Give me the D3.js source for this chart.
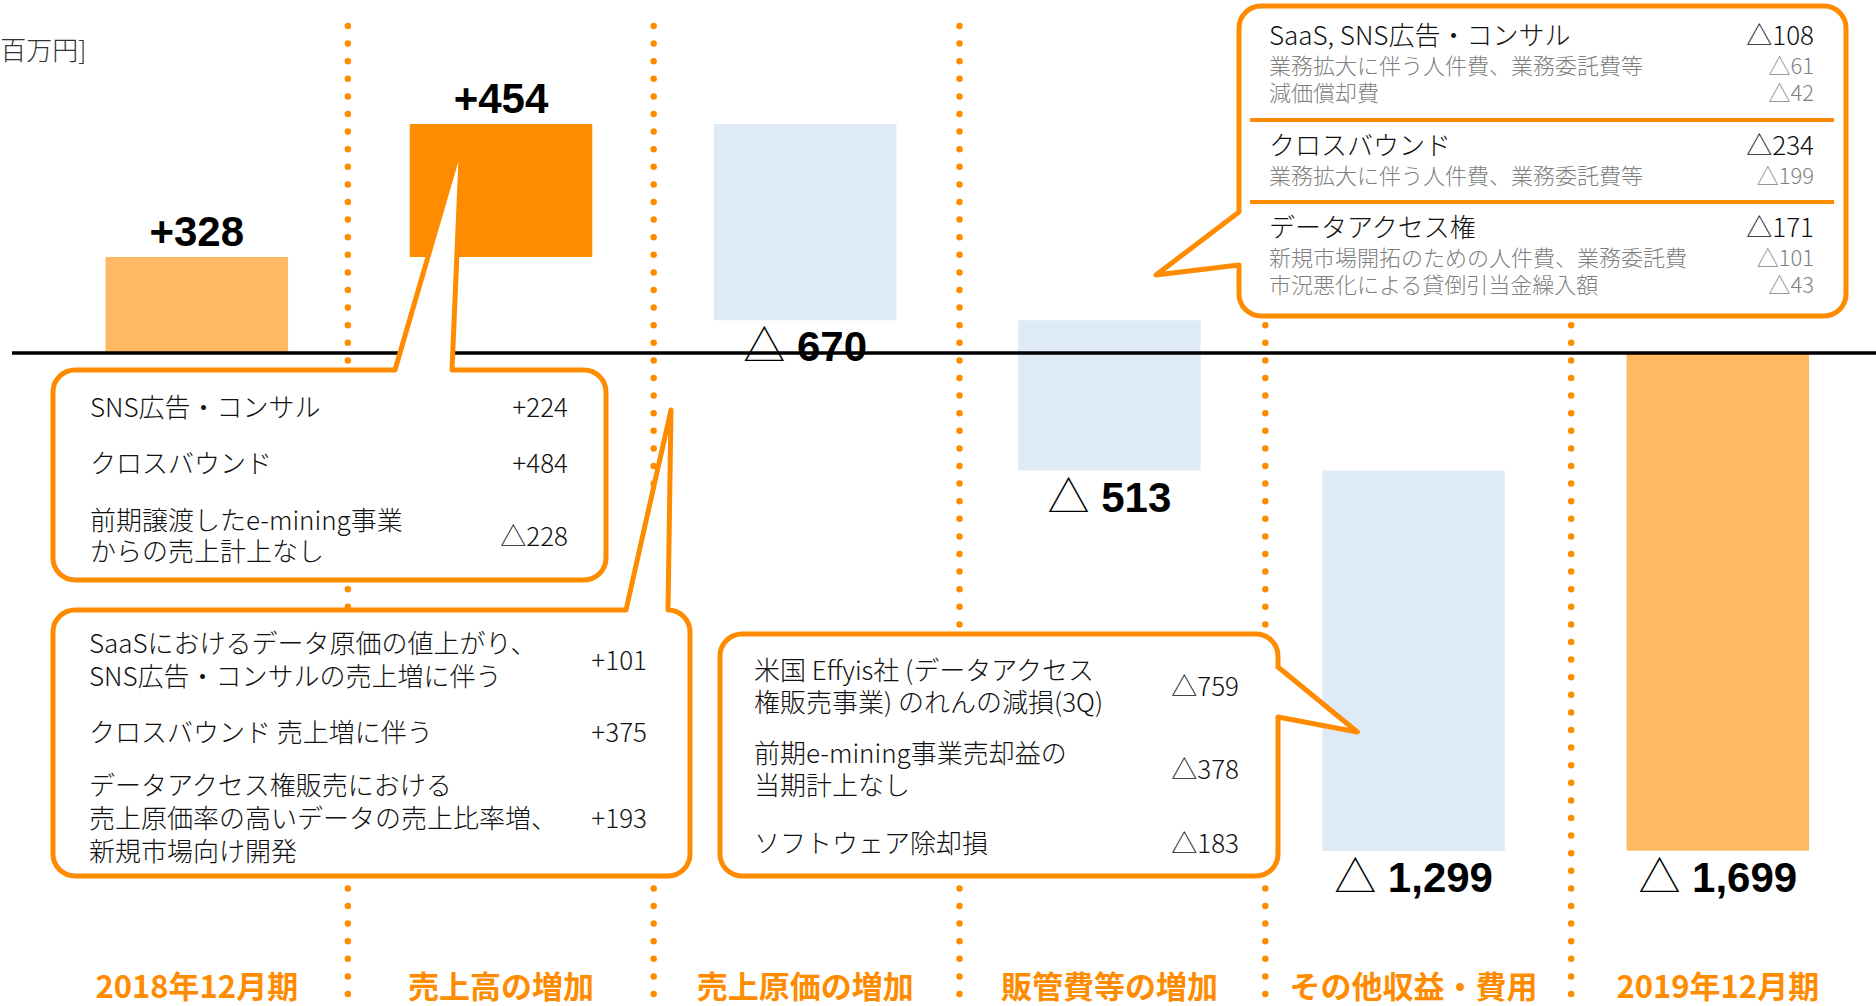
<!DOCTYPE html>
<html>
<head>
<meta charset="utf-8">
<script src="https://cdn.jsdelivr.net/npm/d3@7"></script>
<style>
  body { margin: 0; background: #fff; overflow: hidden; }
  svg { display: block; }
</style>
</head>
<body>
<script>
// --- data -------------------------------------------------------------
const categories = ['2018年12月期', '売上高の増加', '売上原価の増加', '販管費等の増加', 'その他収益・費用', '2019年12月期'];
const changes = [328, 454, -670, -513, -1299, -1699];
const kinds = ['total', 'up', 'down', 'down', 'down', 'total'];
const valueLabels = ['+328', '+454', '670', '513', '1,299', '1,699'];

const salesNotes = [
  { lines: ['SNS広告・コンサル'], value: '+224' },
  { lines: ['クロスバウンド'], value: '+484' },
  { lines: ['前期譲渡したe-mining事業', 'からの売上計上なし'], value: '△228' }
];
const costNotes = [
  { lines: ['SaaSにおけるデータ原価の値上がり、', 'SNS広告・コンサルの売上増に伴う'], value: '+101' },
  { lines: ['クロスバウンド 売上増に伴う'], value: '+375' },
  { lines: ['データアクセス権販売における', '売上原価率の高いデータの売上比率増、', '新規市場向け開発'], value: '+193' }
];
const otherNotes = [
  { lines: ['米国 Effyis社 (データアクセス', '権販売事業) のれんの減損(3Q)'], value: '△759' },
  { lines: ['前期e-mining事業売却益の', '当期計上なし'], value: '△378' },
  { lines: ['ソフトウェア除却損'], value: '△183' }
];
const sgaNotes = [
  { head: 'SaaS, SNS広告・コンサル', value: '△108', subs: [['業務拡大に伴う人件費、業務委託費等', '△61'], ['減価償却費', '△42']] },
  { head: 'クロスバウンド', value: '△234', subs: [['業務拡大に伴う人件費、業務委託費等', '△199']] },
  { head: 'データアクセス権', value: '△171', subs: [['新規市場開拓のための人件費、業務委託費', '△101'], ['市況悪化による貸倒引当金繰入額', '△43']] }
];

// --- setup ------------------------------------------------------------
const width = 1876;
const height = 1006;
const orange = '#ff8c00';
const jp = '"Noto Sans CJK JP", "Noto Sans", sans-serif';
const num = '"Liberation Sans", Arial, sans-serif';

const svg = d3.select('body').append('svg')
  .attr('width', width)
  .attr('height', height);

// waterfall steps
let running = 0;
const steps = changes.map((v, i) => {
  let start, end;
  if (kinds[i] === 'total') { start = 0; end = v; running = v; }
  else { start = running; end = running + v; running = end; }
  return { cat: categories[i], kind: kinds[i], v, start, end, label: valueLabels[i] };
});

const x = d3.scaleBand()
  .domain(categories)
  .range([44.7, 1869.9])
  .paddingInner(0.4)
  .paddingOuter(0.2);

// separator columns are a touch wider than the bar slots
const xSep = d3.scaleBand()
  .domain(categories)
  .range([42, 1877]);

const y = d3.scaleLinear()
  .domain([-1700, 782])
  .range([851, 124]);

const fill = { total: '#ffb964', up: '#ff8c00', down: '#deebf7' };

// bars
svg.append('g').selectAll('rect')
  .data(steps)
  .enter()
    .append('rect')
    .attr('x', d => x(d.cat))
    .attr('width', x.bandwidth())
    .attr('y', d => y(Math.max(d.start, d.end)))
    .attr('height', d => Math.abs(y(d.start) - y(d.end)))
    .attr('fill', d => fill[d.kind]);

// dotted separators
svg.append('g').selectAll('line')
  .data(categories.slice(1))
  .enter()
    .append('line')
    .attr('x1', d => xSep(d))
    .attr('x2', d => xSep(d))
    .attr('y1', 26)
    .attr('y2', height + 10)
    .attr('stroke', orange)
    .attr('stroke-width', 6.5)
    .attr('stroke-linecap', 'round')
    .attr('stroke-dasharray', '0 17.6');

// zero line
svg.append('line')
  .attr('x1', 12).attr('x2', width)
  .attr('y1', y(0)).attr('y2', y(0))
  .attr('stroke', '#000')
  .attr('stroke-width', 3.5);

// value labels
const labels = svg.append('g').selectAll('text')
  .data(steps)
  .enter()
    .append('text')
    .attr('x', d => x(d.cat) + x.bandwidth() / 2)
    .attr('y', d => d.v > 0 ? y(Math.max(d.start, d.end)) - 11 : y(Math.min(d.start, d.end)) + 41)
    .attr('text-anchor', 'middle')
    .attr('font-size', 42);

labels.filter(d => d.v < 0).append('tspan')
  .attr('font-family', jp)
  .attr('font-weight', 300)
  .text('△');
labels.append('tspan')
  .attr('font-family', num)
  .attr('font-weight', 'bold')
  .text(d => d.v < 0 ? '\u00a0' + d.label : d.label);

// unit
svg.append('text')
  .attr('x', -8).attr('y', 60)
  .attr('font-family', jp)
  .attr('font-weight', 300)
  .attr('font-size', 26)
  .attr('fill', '#333')
  .text('[百万円]');

// category labels
svg.append('g').selectAll('text')
  .data(categories)
  .enter()
    .append('text')
    .attr('x', d => x(d) + x.bandwidth() / 2)
    .attr('y', 998)
    .attr('text-anchor', 'middle')
    .attr('font-family', jp)
    .attr('font-weight', 'bold')
    .attr('font-size', 31)
    .attr('fill', orange)
    .text(d => d);

// --- callouts ---------------------------------------------------------
function calloutPath(b, p) {
  const r = 22;
  let d = `M${b.x0 + r},${b.y0}`;
  if (p.side === 'top') d += `L${p.a},${b.y0}L${p.tip[0]},${p.tip[1]}L${p.b},${b.y0}`;
  d += `L${b.x1 - r},${b.y0}A${r},${r} 0 0 1 ${b.x1},${b.y0 + r}`;
  if (p.side === 'right') d += `L${b.x1},${p.a}L${p.tip[0]},${p.tip[1]}L${b.x1},${p.b}`;
  d += `L${b.x1},${b.y1 - r}A${r},${r} 0 0 1 ${b.x1 - r},${b.y1}`;
  d += `L${b.x0 + r},${b.y1}A${r},${r} 0 0 1 ${b.x0},${b.y1 - r}`;
  if (p.side === 'left') d += `L${b.x0},${p.b}L${p.tip[0]},${p.tip[1]}L${b.x0},${p.a}`;
  d += `L${b.x0},${b.y0 + r}A${r},${r} 0 0 1 ${b.x0 + r},${b.y0}Z`;
  return d;
}

function drawCallout(box, pointer) {
  const g = svg.append('g');
  g.append('path')
    .attr('d', calloutPath(box, pointer))
    .attr('fill', '#fff')
    .attr('stroke', orange)
    .attr('stroke-width', 5)
    .attr('stroke-linejoin', 'round');
  return g;
}

function drawRows(g, rows, left, right, rowY, lineH) {
  rows.forEach((row, i) => {
    const y0 = rowY[i];
    row.lines.forEach((line, j) => {
      g.append('text')
        .attr('x', left)
        .attr('y', y0 + j * lineH)
        .attr('font-family', jp)
        .attr('font-weight', 300)
        .attr('font-size', 26)
        .attr('fill', '#111')
        .text(line);
    });
    g.append('text')
      .attr('x', right)
      .attr('y', y0 + (row.lines.length - 1) * lineH / 2)
      .attr('text-anchor', 'end')
      .attr('font-family', jp)
      .attr('font-weight', 300)
      .attr('font-size', 26)
      .attr('fill', '#111')
      .text(row.value);
  });
}

// 売上高
const bar2 = steps[1];
const gA = drawCallout({ x0: 53, y0: 370, x1: 606, y1: 580 },
  { side: 'top', a: 395, b: 452, tip: [x(bar2.cat) + 52, y(bar2.end) + 17] });
drawRows(gA, salesNotes, 90, 568, [417, 473, 530], 31);

// 売上原価
const gB = drawCallout({ x0: 53, y0: 610, x1: 690, y1: 876 },
  { side: 'top', a: 626, b: 668, tip: [671, 410] });
drawRows(gB, costNotes, 89, 647, [653, 742, 795], 33);

// その他
const bar5 = steps[4];
const gC = drawCallout({ x0: 720, y0: 634, x1: 1278, y1: 876 },
  { side: 'right', a: 667, b: 717, tip: [x(bar5.cat) + 35, 732] });
drawRows(gC, otherNotes, 754, 1239, [680, 763, 853], 32);

// 販管費
const gD = drawCallout({ x0: 1239, y0: 6, x1: 1846, y1: 316 },
  { side: 'left', a: 212, b: 265, tip: [1156, 275] });
const headY = [45, 155, 237];
sgaNotes.forEach((grp, i) => {
  gD.append('text')
    .attr('x', 1269).attr('y', headY[i])
    .attr('font-family', jp).attr('font-weight', 300)
    .attr('font-size', 26).attr('fill', '#111')
    .text(grp.head);
  gD.append('text')
    .attr('x', 1814).attr('y', headY[i])
    .attr('text-anchor', 'end')
    .attr('font-family', jp).attr('font-weight', 300)
    .attr('font-size', 26).attr('fill', '#111')
    .text(grp.value);
  grp.subs.forEach((s, j) => {
    const sy = headY[i] + 29 + j * 27;
    gD.append('text')
      .attr('x', 1269).attr('y', sy)
      .attr('font-family', jp).attr('font-weight', 300)
      .attr('font-size', 22).attr('fill', '#7f7f7f')
      .text(s[0]);
    gD.append('text')
      .attr('x', 1814).attr('y', sy)
      .attr('text-anchor', 'end')
      .attr('font-family', jp).attr('font-weight', 300)
      .attr('font-size', 22).attr('fill', '#7f7f7f')
      .text(s[1]);
  });
});
gD.selectAll('line.div')
  .data([120, 202])
  .enter()
    .append('line')
    .attr('x1', 1250).attr('x2', 1834)
    .attr('y1', d => d).attr('y2', d => d)
    .attr('stroke', orange)
    .attr('stroke-width', 4);
</script>
</body>
</html>
